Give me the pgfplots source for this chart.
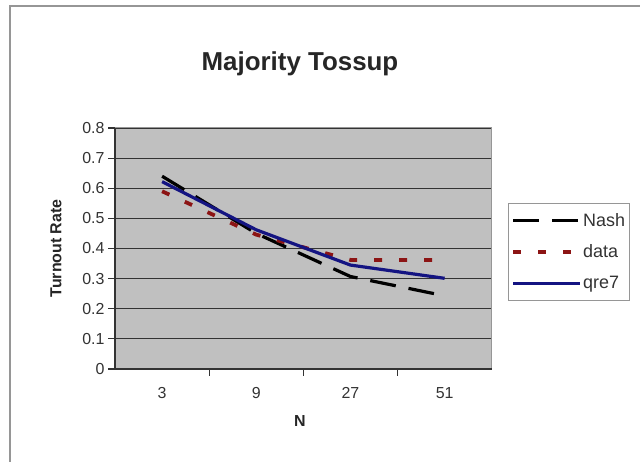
\documentclass[border=0pt]{standalone}
\usepackage{pgfplots}
\pgfplotsset{compat=1.18}
\usepackage{fontspec}
\setmainfont{Liberation Sans}
\definecolor{plotgray}{RGB}{192,192,192}
\definecolor{datared}{RGB}{140,20,20}
\definecolor{qrenavy}{RGB}{20,20,130}
\definecolor{framegray}{RGB}{150,150,150}
\begin{document}
\begin{tikzpicture}[x=1bp,y=1bp]
\useasboundingbox (0,0) rectangle (640,462);
\fill[white] (0,0) rectangle (640,462);
\draw[framegray, line width=1.5bp] (10,0) -- (10,456) -- (641,456);
\begin{axis}[
  at={(115bp,93bp)}, anchor=south west,
  scale only axis, width=376.7bp, height=241bp,
  xmin=-0.5, xmax=3.5, ymin=0, ymax=0.8,
  axis background/.style={fill=plotgray},
  axis line style={draw=framegray, line width=1bp},
  xtick pos=bottom, ytick pos=left,
  xtick={0.5,1.5,2.5}, xticklabels={},
  extra x ticks={0,1,2,3}, extra x tick labels={3,9,27,51},
  extra x tick style={major tick length=0pt, xticklabel style={yshift=-15bp}},
  ytick={0,0.1,...,0.8},
  yticklabel style={/pgf/number format/fixed, /pgf/number format/precision=1, xshift=0bp},
  /pgf/number format/assume math mode=true,
  tick align=outside, major tick length=7bp,
  tick style={draw=black!80, line width=1.2bp},
  ymajorgrids, grid style={draw=black!80, line width=1.2bp},
  tick label style={font=\fontsize{16}{18}\selectfont, text=black!80},
  title={Majority Tossup},
  title style={font=\fontsize{26}{29}\selectfont\bfseries, text=black!85, at={(axis description cs:0.491,1.24)}, anchor=center},
  ylabel={Turnout Rate},
  ylabel style={font=\fontsize{16}{18}\selectfont\bfseries, text=black!85, at={(axis description cs:-0.157,0.5)}, anchor=center},
  xlabel={N},
  xlabel style={font=\fontsize{16}{18}\selectfont\bfseries, text=black!85, at={(axis description cs:0.491,-0.216)}, anchor=center},
  legend style={at={(axis description cs:1.043,0.689)}, anchor=north west,
    draw=framegray, line width=1bp, fill=white,
    font=\fontsize{18}{20}\selectfont, text=black!80,
    row sep=13bp, inner xsep=3bp, inner ysep=8bp,
    nodes={inner xsep=1bp}},
  legend cell align=left,
  legend image code/.code={\draw[#1] (0bp,0bp) -- (67bp,0bp);},
  clip=false,
]
\addplot[black, line width=3.2bp, dash pattern=on 26bp off 13bp] coordinates {(0,0.64) (1,0.45) (2,0.307) (3,0.243)};
\addlegendentry{Nash}
\addplot[datared, line width=3.8bp, dash pattern=on 8bp off 17bp] coordinates {(0,0.59) (1,0.446) (2,0.362) (3,0.362)};
\addlegendentry{data}
\addplot[qrenavy, line width=3.2bp] coordinates {(0,0.622) (1,0.462) (2,0.345) (3,0.301)};
\addlegendentry{qre7}
\draw[black!80, line width=2.5bp] (rel axis cs:0,1) -- (rel axis cs:0,0) -- (rel axis cs:1,0);
\end{axis}
\end{tikzpicture}
\end{document}
